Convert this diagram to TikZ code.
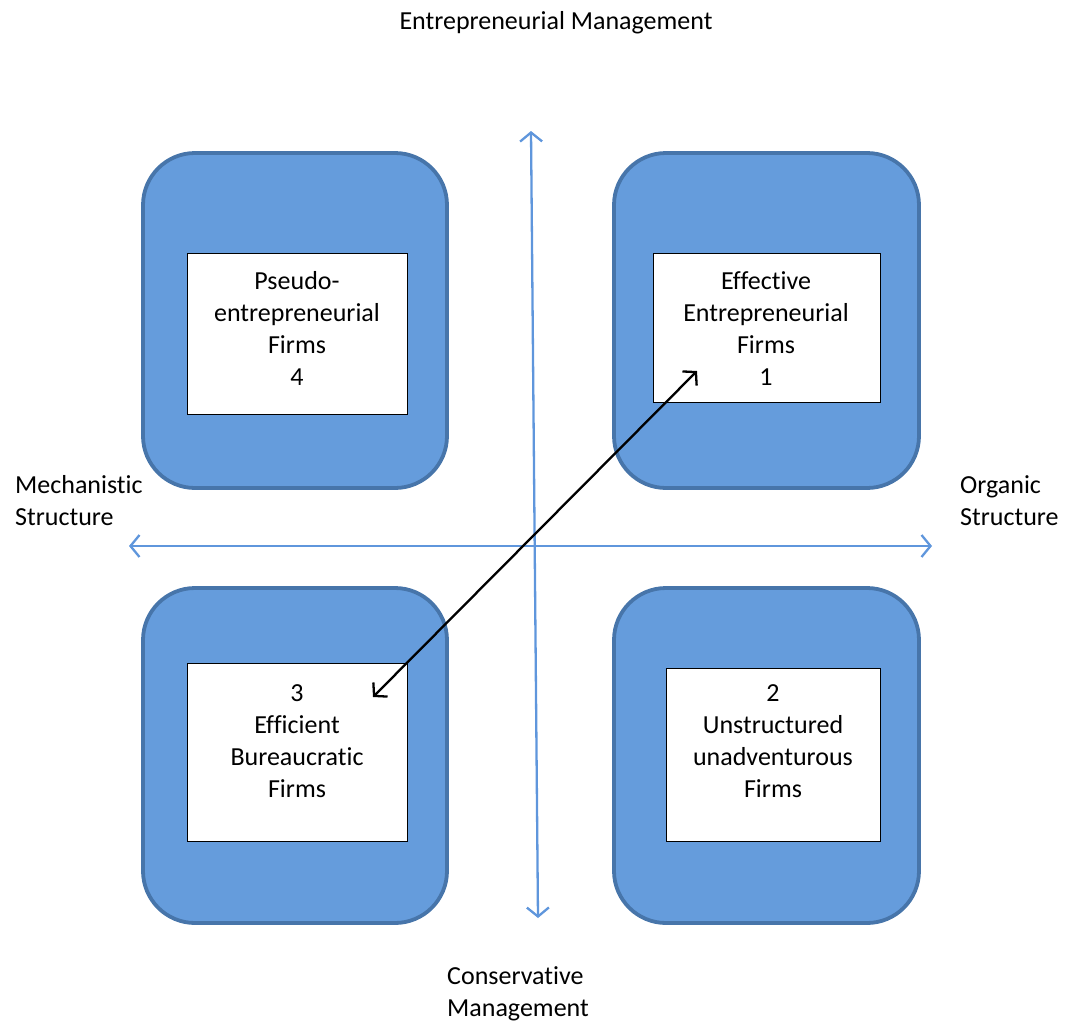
\documentclass[tikz,border=0pt]{standalone}
\usepackage{fontspec}
\setmainfont{Carlito}[Ligatures=NoCommon]
\usetikzlibrary{arrows.meta}

\definecolor{quadfill}{RGB}{101,156,220}
\definecolor{quadedge}{RGB}{71,117,170}
\definecolor{axisblue}{RGB}{95,150,220}

\tikzset{
  quad/.style={fill=quadfill, draw=quadedge, line width=3.8pt, rounded corners=52pt},
  firm/.style={fill=white, draw=black, line width=0.9pt},
  txt/.style={font=\fontsize{26}{32}\selectfont, align=center, inner sep=0pt},
  axis/.style={draw=axisblue, line width=2.3pt, {Straight Barb[length=9pt,width=22pt]}-{Straight Barb[length=9pt,width=22pt]}},
}

\begin{document}
\begin{tikzpicture}[x=1pt, y=-1pt]
  \useasboundingbox (0,0) rectangle (1069,1021);

  % Quadrant backgrounds
  \draw[quad] (143,153) rectangle (447,488);
  \draw[quad] (614,153) rectangle (919,488);
  \draw[quad] (143,588) rectangle (447,923);
  \draw[quad] (614,588) rectangle (919,923);

  % Firm boxes
  \draw[firm] (187,253) rectangle (407,414);
  \draw[firm] (653,253) rectangle (880,402);
  \draw[firm] (187,663) rectangle (407,841);
  \draw[firm] (666,668) rectangle (880,841);

  \node[txt, anchor=north] (pseudo) at (297,271) {Pseudo-\\entrepreneurial\\Firms\\4};
  \node[txt, anchor=north] (effective) at (766,271) {Effective\\Entrepreneurial\\Firms\\1};
  \node[txt, anchor=north] (efficient) at (297,684) {3\\Efficient\\Bureaucratic\\Firms};
  \node[txt, anchor=north] (unstructured) at (773,684) {2\\Unstructured\\unadventurous\\Firms};

  % Axes
  \coordinate (top) at (531,131);
  \coordinate (bottom) at (538,918);
  \coordinate (left) at (129,546);
  \coordinate (right) at (932,546);
  \draw[axis] (bottom) -- (top);
  \draw[axis] (left) -- (right);

  % Axis labels
  \node[txt, anchor=north] (entre) at (556,11) {Entrepreneurial Management};
  \node[txt, anchor=north west, align=left] (mech) at (15,475) {Mechanistic\\Structure};
  \node[txt, anchor=north west, align=left] (organic) at (960,475) {Organic\\Structure};
  \node[txt, anchor=north west, align=left] (cons) at (447,966) {Conservative\\Management};

  % Movement between quadrants 1 and 3
  \coordinate (q1) at (697,371);
  \coordinate (q3) at (373,697);
  \draw[line width=2.3pt, {Straight Barb[length=9pt,width=20pt]}-{Straight Barb[length=9pt,width=20pt]}] (q3) -- (q1);
\end{tikzpicture}
\end{document}
